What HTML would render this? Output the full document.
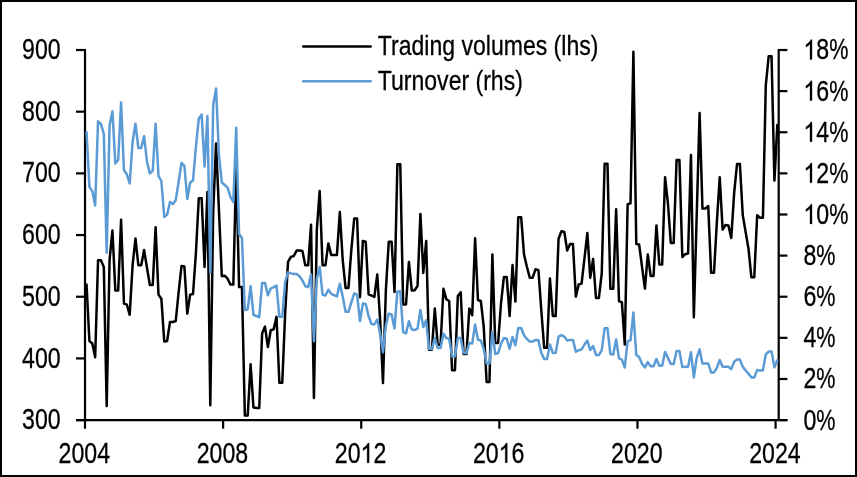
<!DOCTYPE html>
<html><head><meta charset="utf-8"><title>Chart</title>
<style>
html,body{margin:0;padding:0;background:#fff;}
body{width:857px;height:477px;overflow:hidden;position:relative;font-family:"Liberation Sans",sans-serif;}
svg{position:absolute;left:0;top:0;display:block;will-change:transform;}
.frame{position:absolute;left:0;top:0;width:857px;height:477px;box-sizing:border-box;border:2px solid #000;pointer-events:none;}
</style></head><body>
<svg width="857" height="477" viewBox="0 0 857 477">
<g stroke="#000" stroke-width="2.2" fill="none" stroke-linecap="butt">
<path d="M85.00 49.00 V421.10"/>
<path d="M778.70 49.00 V421.10"/>
<path d="M76.00 420.10 H787.40"/>
<path d="M76.00 50.00 H85.00"/>
<path d="M76.00 111.68 H85.00"/>
<path d="M76.00 173.37 H85.00"/>
<path d="M76.00 235.05 H85.00"/>
<path d="M76.00 296.73 H85.00"/>
<path d="M76.00 358.42 H85.00"/>
<path d="M76.00 420.10 H85.00"/>
<path d="M778.70 50.00 H787.40"/>
<path d="M778.70 91.12 H787.40"/>
<path d="M778.70 132.24 H787.40"/>
<path d="M778.70 173.37 H787.40"/>
<path d="M778.70 214.49 H787.40"/>
<path d="M778.70 255.61 H787.40"/>
<path d="M778.70 296.73 H787.40"/>
<path d="M778.70 337.86 H787.40"/>
<path d="M778.70 378.98 H787.40"/>
<path d="M778.70 420.10 H787.40"/>
<path d="M85.00 420.10 V428.70"/>
<path d="M223.12 420.10 V428.70"/>
<path d="M361.23 420.10 V428.70"/>
<path d="M499.35 420.10 V428.70"/>
<path d="M637.46 420.10 V428.70"/>
<path d="M775.58 420.10 V428.70"/>
</g>
<g font-family="Liberation Sans, sans-serif" fill="#000" stroke="#000" stroke-width="0.3">
<text transform="translate(22.10 59.10) scale(0.806 1)" text-anchor="start" font-size="28.7">9</text><text transform="translate(34.97 59.10) scale(0.806 1)" text-anchor="start" font-size="28.7">0</text><text transform="translate(47.83 59.10) scale(0.806 1)" text-anchor="start" font-size="28.7">0</text>
<text transform="translate(22.10 120.78) scale(0.806 1)" text-anchor="start" font-size="28.7">8</text><text transform="translate(34.97 120.78) scale(0.806 1)" text-anchor="start" font-size="28.7">0</text><text transform="translate(47.83 120.78) scale(0.806 1)" text-anchor="start" font-size="28.7">0</text>
<text transform="translate(22.10 182.47) scale(0.806 1)" text-anchor="start" font-size="28.7">7</text><text transform="translate(34.97 182.47) scale(0.806 1)" text-anchor="start" font-size="28.7">0</text><text transform="translate(47.83 182.47) scale(0.806 1)" text-anchor="start" font-size="28.7">0</text>
<text transform="translate(22.10 244.15) scale(0.806 1)" text-anchor="start" font-size="28.7">6</text><text transform="translate(34.97 244.15) scale(0.806 1)" text-anchor="start" font-size="28.7">0</text><text transform="translate(47.83 244.15) scale(0.806 1)" text-anchor="start" font-size="28.7">0</text>
<text transform="translate(22.10 305.83) scale(0.806 1)" text-anchor="start" font-size="28.7">5</text><text transform="translate(34.97 305.83) scale(0.806 1)" text-anchor="start" font-size="28.7">0</text><text transform="translate(47.83 305.83) scale(0.806 1)" text-anchor="start" font-size="28.7">0</text>
<text transform="translate(22.10 367.52) scale(0.806 1)" text-anchor="start" font-size="28.7">4</text><text transform="translate(34.97 367.52) scale(0.806 1)" text-anchor="start" font-size="28.7">0</text><text transform="translate(47.83 367.52) scale(0.806 1)" text-anchor="start" font-size="28.7">0</text>
<text transform="translate(22.10 429.20) scale(0.806 1)" text-anchor="start" font-size="28.7">3</text><text transform="translate(34.97 429.20) scale(0.806 1)" text-anchor="start" font-size="28.7">0</text><text transform="translate(47.83 429.20) scale(0.806 1)" text-anchor="start" font-size="28.7">0</text>
<path d="M812.02 59.40 L809.98 59.40 L809.98 44.15 Q809.25 44.97 808.06 45.80 T805.92 47.03 L805.92 44.72 Q807.68 43.74 809.00 42.35 T810.87 39.65 L812.02 39.65 Z"/><text transform="translate(816.27 59.40) scale(0.806 1)" text-anchor="start" font-size="28.7">8</text>
<text transform="translate(829.13 59.40) scale(0.753 1)" text-anchor="start" font-size="28.7">%</text>
<path d="M812.02 100.52 L809.98 100.52 L809.98 85.27 Q809.25 86.09 808.06 86.92 T805.92 88.15 L805.92 85.84 Q807.68 84.86 809.00 83.47 T810.87 80.77 L812.02 80.77 Z"/><text transform="translate(816.27 100.52) scale(0.806 1)" text-anchor="start" font-size="28.7">6</text>
<text transform="translate(829.13 100.52) scale(0.753 1)" text-anchor="start" font-size="28.7">%</text>
<path d="M812.02 141.64 L809.98 141.64 L809.98 126.39 Q809.25 127.22 808.06 128.04 T805.92 129.28 L805.92 126.96 Q807.68 125.98 809.00 124.60 T810.87 121.90 L812.02 121.90 Z"/><text transform="translate(816.27 141.64) scale(0.806 1)" text-anchor="start" font-size="28.7">4</text>
<text transform="translate(829.13 141.64) scale(0.753 1)" text-anchor="start" font-size="28.7">%</text>
<path d="M812.02 182.77 L809.98 182.77 L809.98 167.51 Q809.25 168.34 808.06 169.16 T805.92 170.40 L805.92 168.08 Q807.68 167.11 809.00 165.72 T810.87 163.02 L812.02 163.02 Z"/><text transform="translate(816.27 182.77) scale(0.806 1)" text-anchor="start" font-size="28.7">2</text>
<text transform="translate(829.13 182.77) scale(0.753 1)" text-anchor="start" font-size="28.7">%</text>
<path d="M812.02 223.89 L809.98 223.89 L809.98 208.63 Q809.25 209.46 808.06 210.28 T805.92 211.52 L805.92 209.21 Q807.68 208.23 809.00 206.84 T810.87 204.14 L812.02 204.14 Z"/><text transform="translate(816.27 223.89) scale(0.806 1)" text-anchor="start" font-size="28.7">0</text>
<text transform="translate(829.13 223.89) scale(0.753 1)" text-anchor="start" font-size="28.7">%</text>
<text transform="translate(803.40 265.01) scale(0.806 1)" text-anchor="start" font-size="28.7">8</text>
<text transform="translate(816.27 265.01) scale(0.753 1)" text-anchor="start" font-size="28.7">%</text>
<text transform="translate(803.40 306.13) scale(0.806 1)" text-anchor="start" font-size="28.7">6</text>
<text transform="translate(816.27 306.13) scale(0.753 1)" text-anchor="start" font-size="28.7">%</text>
<text transform="translate(803.40 347.26) scale(0.806 1)" text-anchor="start" font-size="28.7">4</text>
<text transform="translate(816.27 347.26) scale(0.753 1)" text-anchor="start" font-size="28.7">%</text>
<text transform="translate(803.40 388.38) scale(0.806 1)" text-anchor="start" font-size="28.7">2</text>
<text transform="translate(816.27 388.38) scale(0.753 1)" text-anchor="start" font-size="28.7">%</text>
<text transform="translate(803.40 429.50) scale(0.806 1)" text-anchor="start" font-size="28.7">0</text>
<text transform="translate(816.27 429.50) scale(0.753 1)" text-anchor="start" font-size="28.7">%</text>
<text transform="translate(58.57 462.80) scale(0.806 1)" text-anchor="start" font-size="28.7">2</text><text transform="translate(71.43 462.80) scale(0.806 1)" text-anchor="start" font-size="28.7">0</text><text transform="translate(84.30 462.80) scale(0.806 1)" text-anchor="start" font-size="28.7">0</text><text transform="translate(97.17 462.80) scale(0.806 1)" text-anchor="start" font-size="28.7">4</text>
<text transform="translate(196.69 462.80) scale(0.806 1)" text-anchor="start" font-size="28.7">2</text><text transform="translate(209.55 462.80) scale(0.806 1)" text-anchor="start" font-size="28.7">0</text><text transform="translate(222.42 462.80) scale(0.806 1)" text-anchor="start" font-size="28.7">0</text><text transform="translate(235.28 462.80) scale(0.806 1)" text-anchor="start" font-size="28.7">8</text>
<text transform="translate(334.80 462.80) scale(0.806 1)" text-anchor="start" font-size="28.7">2</text><text transform="translate(347.67 462.80) scale(0.806 1)" text-anchor="start" font-size="28.7">0</text><path d="M369.15 462.80 L367.12 462.80 L367.12 447.55 Q366.38 448.37 365.19 449.20 T363.05 450.43 L363.05 448.12 Q364.81 447.14 366.13 445.75 T368.00 443.05 L369.15 443.05 Z"/><text transform="translate(373.40 462.80) scale(0.806 1)" text-anchor="start" font-size="28.7">2</text>
<text transform="translate(472.92 462.80) scale(0.806 1)" text-anchor="start" font-size="28.7">2</text><text transform="translate(485.78 462.80) scale(0.806 1)" text-anchor="start" font-size="28.7">0</text><path d="M507.26 462.80 L505.23 462.80 L505.23 447.55 Q504.50 448.37 503.30 449.20 T501.16 450.43 L501.16 448.12 Q502.93 447.14 504.24 445.75 T506.11 443.05 L507.26 443.05 Z"/><text transform="translate(511.51 462.80) scale(0.806 1)" text-anchor="start" font-size="28.7">6</text>
<text transform="translate(611.03 462.80) scale(0.806 1)" text-anchor="start" font-size="28.7">2</text><text transform="translate(623.90 462.80) scale(0.806 1)" text-anchor="start" font-size="28.7">0</text><text transform="translate(636.76 462.80) scale(0.806 1)" text-anchor="start" font-size="28.7">2</text><text transform="translate(649.63 462.80) scale(0.806 1)" text-anchor="start" font-size="28.7">0</text>
<text transform="translate(749.15 462.80) scale(0.806 1)" text-anchor="start" font-size="28.7">2</text><text transform="translate(762.01 462.80) scale(0.806 1)" text-anchor="start" font-size="28.7">0</text><text transform="translate(774.88 462.80) scale(0.806 1)" text-anchor="start" font-size="28.7">2</text><text transform="translate(787.74 462.80) scale(0.806 1)" text-anchor="start" font-size="28.7">4</text>
<text transform="translate(377.80 54.90) scale(0.838 1)" text-anchor="start" font-size="27.5">Trading volumes (lhs)</text>
<text transform="translate(377.80 89.60) scale(0.838 1)" text-anchor="start" font-size="27.5">Turnover (rhs)</text>
</g>
<path d="M303.2 46.4 H370.7" stroke="#000" stroke-width="2.5" fill="none" stroke-linecap="round"/>
<path d="M303.2 81.2 H370.7" stroke="#5b9bd5" stroke-width="2.5" fill="none" stroke-linecap="round"/>
<path d="M86.54 284.50 L89.42 341.00 L92.30 343.50 L95.17 357.30 L98.05 260.20 L100.93 260.20 L103.81 267.00 L106.69 406.10 L109.56 260.00 L112.44 230.60 L115.32 290.40 L118.20 290.40 L121.08 219.70 L123.96 303.50 L126.83 304.70 L129.71 314.80 L132.59 265.20 L135.47 238.50 L138.35 265.20 L141.22 265.20 L144.10 250.10 L146.98 267.70 L149.86 285.00 L152.74 285.00 L155.62 227.20 L158.49 294.60 L161.37 298.80 L164.25 341.50 L167.13 341.00 L170.01 322.00 L172.89 322.00 L175.76 321.00 L178.64 292.00 L181.52 266.00 L184.40 266.50 L187.28 313.60 L190.15 294.60 L193.03 294.00 L195.91 253.00 L198.79 198.30 L201.67 198.30 L204.55 266.90 L207.42 192.00 L210.30 405.30 L213.18 212.00 L216.06 143.40 L218.94 210.00 L221.81 276.10 L224.69 275.70 L227.57 278.70 L230.45 284.60 L233.33 284.60 L236.21 167.00 L239.08 287.10 L241.96 287.10 L244.84 415.50 L247.72 415.50 L250.60 364.30 L253.47 407.50 L256.35 408.00 L259.23 408.00 L262.11 333.60 L264.99 326.60 L267.87 347.00 L270.74 330.30 L273.62 329.40 L276.50 316.80 L279.38 382.80 L282.26 382.80 L285.13 314.00 L288.01 261.90 L290.89 256.90 L293.77 256.00 L296.65 250.50 L299.53 250.50 L302.40 251.00 L305.28 265.30 L308.16 265.30 L311.04 224.70 L313.92 397.90 L316.80 230.00 L319.67 191.10 L322.55 265.30 L325.43 265.30 L328.31 243.40 L331.19 254.90 L334.06 254.90 L336.94 254.90 L339.82 212.10 L342.70 260.00 L345.58 288.00 L348.46 288.00 L351.33 250.00 L354.21 218.50 L357.09 218.50 L359.97 297.20 L362.85 240.90 L365.72 241.80 L368.60 294.30 L371.48 295.50 L374.36 297.00 L377.24 274.60 L380.12 320.00 L382.99 382.90 L385.87 290.00 L388.75 241.80 L391.63 241.80 L394.51 292.00 L397.38 164.30 L400.26 164.30 L403.14 304.40 L406.02 304.40 L408.90 262.00 L411.78 290.50 L414.65 290.30 L417.53 286.00 L420.41 213.90 L423.29 273.00 L426.17 241.00 L429.04 349.70 L431.92 349.70 L434.80 308.60 L437.68 344.70 L440.56 344.70 L443.44 288.80 L446.31 299.20 L449.19 301.00 L452.07 370.30 L454.95 370.30 L457.83 296.00 L460.71 292.30 L463.58 354.00 L466.46 354.00 L469.34 308.60 L472.22 315.30 L475.10 238.30 L477.97 300.00 L480.85 301.00 L483.73 327.00 L486.61 382.00 L489.49 382.00 L492.37 254.50 L495.24 343.00 L498.12 343.00 L501.00 303.50 L503.88 277.10 L506.76 277.10 L509.63 316.10 L512.51 265.00 L515.39 301.60 L518.27 217.20 L521.15 217.20 L524.03 254.50 L526.90 266.70 L529.78 277.70 L532.66 277.70 L535.54 269.20 L538.42 270.20 L541.29 310.00 L544.17 347.80 L547.05 347.80 L549.93 278.60 L552.81 315.90 L555.69 315.90 L558.56 238.70 L561.44 231.20 L564.32 232.00 L567.20 250.50 L570.08 244.10 L572.95 244.10 L575.83 296.60 L578.71 284.50 L581.59 283.60 L584.47 258.40 L587.35 232.90 L590.22 277.70 L593.10 259.00 L595.98 298.00 L598.86 298.00 L601.74 273.50 L604.62 163.70 L607.49 163.70 L610.37 288.70 L613.25 288.70 L616.13 209.30 L619.01 301.30 L621.88 302.10 L624.76 344.50 L627.64 204.30 L630.52 203.40 L633.40 51.80 L636.28 244.10 L639.15 244.60 L642.03 266.80 L644.91 288.70 L647.79 254.50 L650.67 276.00 L653.54 276.00 L656.42 225.40 L659.30 264.40 L662.18 264.40 L665.06 177.20 L667.94 203.50 L670.81 243.00 L673.69 243.00 L676.57 160.10 L679.45 160.10 L682.33 257.00 L685.20 254.20 L688.08 253.50 L690.96 155.00 L693.84 317.30 L696.72 215.00 L699.60 113.10 L702.47 208.60 L705.35 208.60 L708.23 206.00 L711.11 272.80 L713.99 272.80 L716.86 222.00 L719.74 177.20 L722.62 229.60 L725.50 225.00 L728.38 225.40 L731.26 238.00 L734.13 193.40 L737.01 164.10 L739.89 164.10 L742.77 215.30 L745.65 232.10 L748.53 249.00 L751.40 277.30 L754.28 277.30 L757.16 215.30 L760.04 217.80 L762.92 217.80 L765.79 85.40 L768.67 56.30 L771.55 56.30 L774.43 180.60 L777.31 125.10" stroke="#000" stroke-width="2.5" fill="none" stroke-linejoin="round" stroke-linecap="round"/>
<path d="M86.54 132.10 L89.42 186.90 L92.30 191.10 L95.17 205.40 L98.05 121.30 L100.93 124.00 L103.81 133.80 L106.69 252.70 L109.56 125.40 L112.44 111.30 L115.32 163.40 L118.20 160.00 L121.08 102.50 L123.96 170.10 L126.83 174.30 L129.71 183.50 L132.59 142.00 L135.47 123.70 L138.35 148.00 L141.22 148.00 L144.10 136.30 L146.98 161.70 L149.86 173.40 L152.74 170.90 L155.62 123.70 L158.49 176.00 L161.37 181.00 L164.25 217.10 L167.13 214.60 L170.01 202.00 L172.89 204.00 L175.76 200.30 L178.64 181.80 L181.52 163.00 L184.40 165.90 L187.28 199.00 L190.15 182.70 L193.03 180.20 L195.91 147.00 L198.79 118.70 L201.67 114.50 L204.55 166.60 L207.42 116.10 L210.30 272.00 L213.18 105.20 L216.06 88.40 L218.94 155.00 L221.81 182.30 L224.69 185.00 L227.57 187.70 L230.45 197.00 L233.33 202.00 L236.21 127.80 L239.08 234.00 L241.96 238.00 L244.84 310.10 L247.72 309.20 L250.60 286.30 L253.47 314.80 L256.35 316.00 L259.23 317.10 L262.11 282.90 L264.99 282.90 L267.87 295.20 L270.74 288.50 L273.62 287.10 L276.50 285.50 L279.38 316.80 L282.26 316.80 L285.13 282.00 L288.01 272.40 L290.89 273.40 L293.77 274.00 L296.65 274.00 L299.53 276.20 L302.40 280.40 L305.28 286.30 L308.16 287.10 L311.04 274.50 L313.92 341.20 L316.80 278.70 L319.67 267.00 L322.55 294.70 L325.43 295.50 L328.31 289.70 L331.19 293.90 L334.06 295.20 L336.94 296.40 L339.82 283.80 L342.70 296.40 L345.58 311.80 L348.46 311.80 L351.33 302.30 L354.21 293.50 L357.09 294.70 L359.97 321.00 L362.85 303.60 L365.72 304.00 L368.60 316.00 L371.48 324.00 L374.36 324.50 L377.24 319.50 L380.12 333.80 L382.99 352.30 L385.87 325.40 L388.75 313.60 L391.63 314.50 L394.51 328.40 L397.38 291.40 L400.26 291.40 L403.14 332.10 L406.02 333.40 L408.90 321.20 L411.78 329.60 L414.65 330.10 L417.53 328.70 L420.41 309.90 L423.29 327.10 L426.17 320.30 L429.04 348.90 L431.92 348.90 L434.80 338.00 L437.68 348.00 L440.56 348.00 L443.44 333.80 L446.31 338.00 L449.19 338.80 L452.07 356.50 L454.95 356.50 L457.83 338.00 L460.71 338.00 L463.58 353.10 L466.46 353.10 L469.34 343.00 L472.22 343.50 L475.10 324.50 L477.97 339.70 L480.85 340.50 L483.73 348.90 L486.61 363.50 L489.49 363.50 L492.37 332.10 L495.24 354.00 L498.12 353.10 L501.00 343.90 L503.88 338.00 L506.76 338.80 L509.63 348.90 L512.51 336.90 L515.39 345.30 L518.27 328.00 L521.15 328.00 L524.03 335.20 L526.90 338.90 L529.78 341.60 L532.66 341.60 L535.54 339.90 L538.42 340.30 L541.29 352.90 L544.17 359.10 L547.05 359.10 L549.93 344.50 L552.81 352.90 L555.69 352.90 L558.56 336.60 L561.44 335.20 L564.32 336.60 L567.20 340.60 L570.08 339.90 L572.95 339.90 L575.83 351.70 L578.71 350.30 L581.59 349.50 L584.47 344.50 L587.35 340.60 L590.22 350.00 L593.10 346.10 L595.98 355.00 L598.86 355.00 L601.74 350.30 L604.62 328.30 L607.49 328.30 L610.37 354.00 L613.25 354.50 L616.13 339.40 L619.01 358.40 L621.88 359.60 L624.76 367.50 L627.64 341.10 L630.52 340.30 L633.40 312.50 L636.28 355.00 L639.15 357.10 L642.03 363.80 L644.91 367.50 L647.79 362.10 L650.67 366.30 L653.54 366.30 L656.42 359.00 L659.30 365.70 L662.18 365.70 L665.06 351.90 L667.94 357.80 L670.81 364.00 L673.69 364.00 L676.57 351.10 L679.45 351.10 L682.33 367.10 L685.20 366.70 L688.08 366.70 L690.96 352.30 L693.84 377.50 L696.72 357.80 L699.60 349.40 L702.47 363.40 L705.35 363.40 L708.23 363.40 L711.11 372.40 L713.99 372.40 L716.86 367.90 L719.74 360.00 L722.62 366.70 L725.50 366.70 L728.38 366.70 L731.26 369.10 L734.13 361.70 L737.01 359.50 L739.89 359.50 L742.77 366.70 L745.65 370.40 L748.53 373.80 L751.40 377.50 L754.28 377.50 L757.16 370.10 L760.04 370.40 L762.92 370.40 L765.79 354.50 L768.67 351.60 L771.55 351.60 L774.43 367.40 L777.31 360.30" stroke="#5b9bd5" stroke-width="2.5" fill="none" stroke-linejoin="round" stroke-linecap="round"/>
</svg>
<div class="frame"></div>
</body></html>
